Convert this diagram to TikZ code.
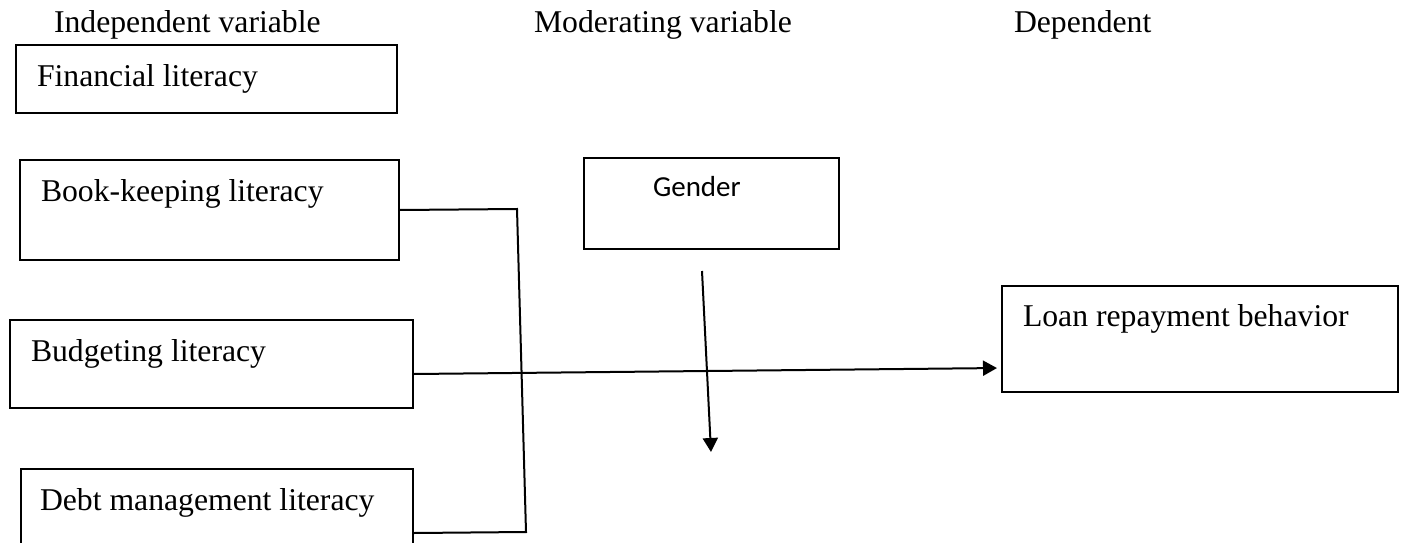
\documentclass[tikz,border=0pt]{standalone}
\usepackage{fontspec}
\setmainfont{Liberation Serif}
\newfontfamily\calfont{Carlito}
\usetikzlibrary{positioning,arrows.meta}
\newcommand{\boxfont}{\fontsize{31.7}{38}\selectfont}

\begin{document}
\begin{tikzpicture}[x=1pt, y=-1pt, line width=2pt,
	varbox/.style={draw=black, rectangle, anchor=north west, inner ysep=0pt, inner xsep=21pt, align=flush left, font=\boxfont},
	heading/.style={anchor=base west, inner sep=0pt, font=\boxfont},
	tip/.style={-{Triangle[width=15pt,length=14pt]}}]
	\useasboundingbox (0,0) rectangle (1405,543);
	\clip (0,0) rectangle (1405,543);

	\node (indep) [heading] at (53,33) {Independent variable};
	\node (moder) [heading] at (533,33) {Moderating variable};
	\node (dep) [heading] at (1013,33) {Dependent};

	\node (fin) [varbox, text width=339pt, text height=41pt, text depth=27pt] at (15,44) {Financial literacy};
	\node (book) [varbox, text width=337pt, text height=41pt, text depth=59pt] at (19,159) {Book-keeping literacy};
	\node (budget) [varbox, text width=361pt, text height=41pt, text depth=47pt] at (9,319) {Budgeting literacy};
	\node (debt) [varbox, inner xsep=19pt, text width=354pt, text height=41pt, text depth=87pt] at (20,468) {Debt management literacy};
	\node (loan) [varbox, text width=354pt, text height=40pt, text depth=66pt] at (1001,285) {Loan repayment behavior};
	\node (gender) [varbox, inner xsep=69pt, text width=117pt, text height=38pt, text depth=53pt, font=\calfont\fontsize{29}{35}\selectfont] at (583,157) {Gender};

	\coordinate (jtop) at (517,209);
	\coordinate (jbot) at (526,532);
	\coordinate (gend) at (711,452);

	\draw (book.east) -- (jtop) -- (jbot) -- (debt.east);
	\draw[tip, shorten >=4pt] ([yshift=-10pt]budget.east) -- ([yshift=-29pt]loan.west);
	\draw[tip] ([shift={(-9.5pt,-21pt)}]gender.south) -- (gend);
\end{tikzpicture}
\end{document}
